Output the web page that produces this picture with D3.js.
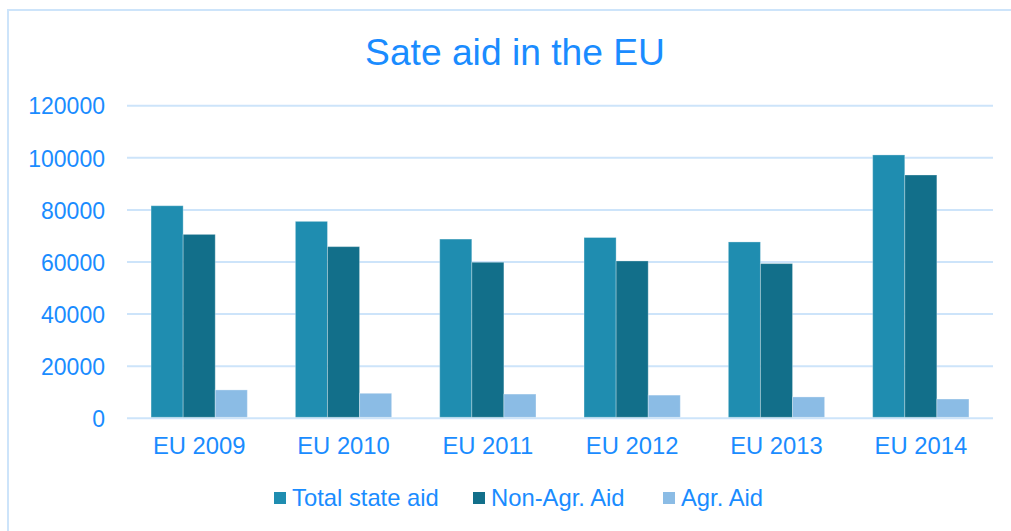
<!DOCTYPE html>
<html>
<head>
<meta charset="utf-8">
<script src="https://cdn.jsdelivr.net/npm/d3@7"></script>
<style>
  html, body { margin: 0; padding: 0; background: #ffffff; }
  svg { display: block; }
  text { font-family: "Liberation Sans", Arial, sans-serif; }
</style>
</head>
<body>
<svg id="chart" width="1011" height="531"></svg>
<script>
// Chart data
const categories = ["EU 2009", "EU 2010", "EU 2011", "EU 2012", "EU 2013", "EU 2014"];
const seriesNames = ["Total state aid", "Non-Agr. Aid", "Agr. Aid"];
const totalAid = [81600, 75600, 68800, 69400, 67700, 101100];
const nonAgrAid = [70600, 65900, 59900, 60400, 59400, 93400];
const agrAid = [10900, 9600, 9300, 8900, 8200, 7400];
const yTicks = [0, 20000, 40000, 60000, 80000, 100000, 120000];
const titleText = "Sate aid in the EU";

const seriesValues = [totalAid, nonAgrAid, agrAid];
const colors = ["#1f8db0", "#126f8a", "#8bbce5"];
const textColor = "#1a8cff";
const gridColor = "#cde4fa";

const svg = d3.select("#chart");

// Outer frame
svg.append("rect")
  .attr("x", 8).attr("y", 10)
  .attr("width", 1030).attr("height", 560)
  .attr("fill", "none")
  .attr("stroke", gridColor)
  .attr("stroke-width", 2);

const plot = { left: 127, right: 993, top: 105.7, bottom: 418.3 };

const x0 = d3.scaleBand()
  .domain(categories)
  .range([plot.left, plot.right])
  .paddingInner(0.333)
  .paddingOuter(0.1667);

const x1 = d3.scaleBand()
  .domain(seriesNames)
  .range([0, x0.bandwidth()]);

const y = d3.scaleLinear()
  .domain([0, 120000])
  .range([plot.bottom, plot.top]);

// Gridlines
svg.append("g")
  .selectAll("line")
  .data(yTicks)
  .join("line")
  .attr("x1", plot.left).attr("x2", plot.right)
  .attr("y1", d => y(d)).attr("y2", d => y(d))
  .attr("stroke", gridColor)
  .attr("stroke-width", 2);

// Y axis labels
const yAxis = d3.axisLeft(y).tickValues(yTicks).tickSize(0).tickPadding(0)
  .tickFormat(d3.format("d"));
svg.append("g")
  .attr("transform", `translate(${105},0)`)
  .call(yAxis)
  .call(g => g.select(".domain").remove())
  .call(g => g.selectAll("text")
    .attr("fill", textColor)
    .attr("font-size", 23)
    .attr("dy", "0.36em")
    .style("font-family", '"Liberation Sans", Arial, sans-serif'));

// Bars
const rows = categories.map((c, i) => ({
  category: c,
  values: seriesNames.map((s, j) => ({ series: s, value: seriesValues[j][i], idx: j }))
}));

svg.append("g")
  .selectAll("g")
  .data(rows)
  .join("g")
  .attr("transform", d => `translate(${x0(d.category)},0)`)
  .selectAll("rect")
  .data(d => d.values)
  .join("rect")
  .attr("x", d => x1(d.series))
  .attr("width", x1.bandwidth())
  .attr("y", d => y(d.value))
  .attr("height", d => y(0) - y(d.value) - 1)
  .attr("fill", d => colors[d.idx])
  .attr("stroke", "rgba(255,255,255,0.3)")
  .attr("stroke-width", 1);

// X axis labels
const xAxis = d3.axisBottom(x0).tickSize(0).tickPadding(0);
svg.append("g")
  .attr("transform", `translate(0,${plot.bottom})`)
  .call(xAxis)
  .call(g => g.select(".domain").remove())
  .call(g => g.selectAll("text")
    .attr("fill", textColor)
    .attr("font-size", 23.8)
    .attr("y", 36)
    .attr("dy", 0)
    .style("font-family", '"Liberation Sans", Arial, sans-serif'));

// Title
svg.append("text")
  .attr("x", 515).attr("y", 65)
  .attr("text-anchor", "middle")
  .attr("fill", textColor)
  .attr("font-size", 37.2)
  .text(titleText);

// Legend
const legendX = [274, 473, 663];
const legend = svg.append("g")
  .selectAll("g")
  .data(seriesNames)
  .join("g")
  .attr("transform", (d, i) => `translate(${legendX[i]},0)`);
legend.append("rect")
  .attr("x", 0).attr("y", 492)
  .attr("width", 12).attr("height", 12)
  .attr("fill", (d, i) => colors[i]);
legend.append("text")
  .attr("x", 18).attr("y", 506)
  .attr("fill", textColor)
  .attr("font-size", 23.8)
  .text(d => d);
</script>
</body>
</html>
